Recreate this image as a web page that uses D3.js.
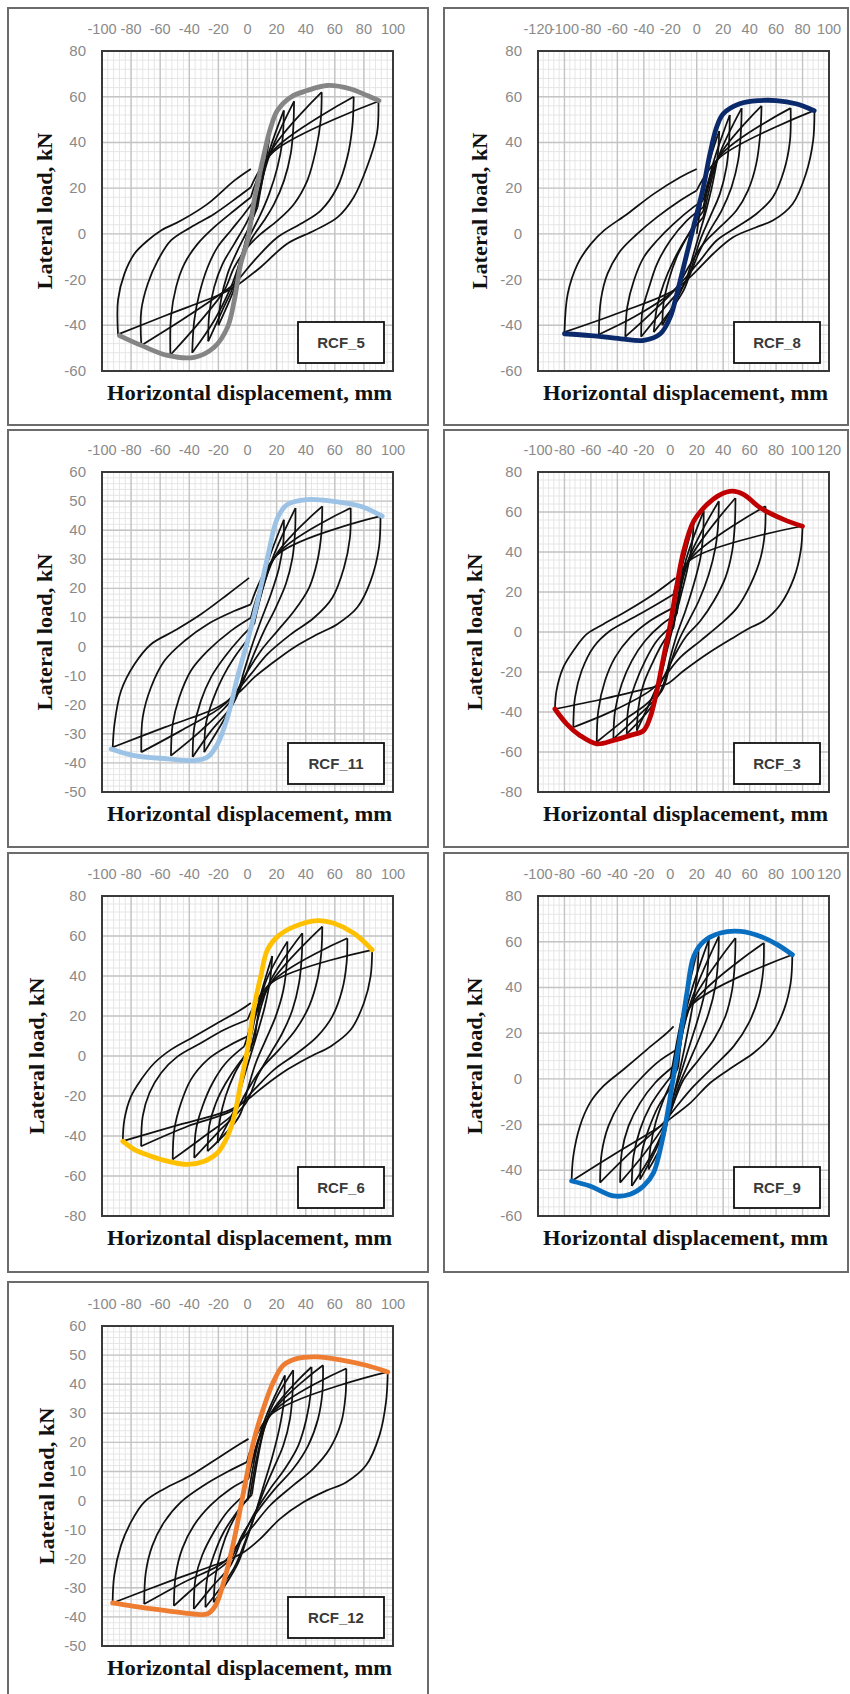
<!DOCTYPE html>
<html>
<head>
<meta charset="utf-8">
<script src="https://cdn.jsdelivr.net/npm/d3@7"></script>
<style>
  body { margin: 0; background: #fff; }
</style>
</head>
<body>
<div id="chart"></div>
<script>
// Specimens and axis ranges (mm, kN)
const specimens = ["RCF_5", "RCF_8", "RCF_11", "RCF_3", "RCF_6", "RCF_9", "RCF_12"];
const xDomains = [[-100, 100], [-120, 100], [-100, 100], [-100, 120], [-100, 100], [-100, 120], [-100, 100]];
const yDomains = [[-60, 80], [-60, 80], [-50, 60], [-80, 80], [-80, 80], [-60, 80], [-50, 60]];
const xTickStep = [20, 20, 20, 20, 20, 20, 20];
const yTickStep = [20, 20, 10, 20, 20, 20, 10];

// Backbone (envelope) curves, [displacement, load]
const rcf5Envelope = [[-88,-44.5],[-73,-48.8],[-55,-53.2],[-36.6,-54],[-22.9,-49.6],[-13.7,-40.8],[-9.1,-29.2],[-4.6,-13],[0,-3],[4.6,14.6],[11.4,35],[16,46.6],[20.6,54],[29.7,59.8],[41,62.7],[54.9,64.9],[70.9,63.4],[82.3,60.5],[90.3,58.3]];
const rcf8Envelope = [[-100,-43.7],[-80,-44.5],[-57.5,-45.9],[-40,-46.6],[-27.5,-43.7],[-20,-36.4],[-15,-26.2],[-10,-14.6],[-5,-2.9],[0,8.7],[5,20.4],[10,35],[15,46.6],[20,52.5],[32.5,56.9],[47.5,58.3],[60,58.3],[75,56.9],[88.8,53.9]];
const rcf11Envelope = [[-93.7,-35.2],[-77.7,-37.5],[-54.9,-38.6],[-36.6,-39.2],[-27.4,-38],[-20.6,-33.5],[-13.7,-24.3],[-6.9,-10.6],[0,1.9],[6.9,15.6],[13.7,30.5],[20.6,44.2],[27.4,48.8],[41.1,50.5],[59.4,49.9],[77.7,48.2],[92.6,44.8]];
const rcf3Envelope = [[-87.2,-38.5],[-78.4,-45.9],[-68.3,-51.7],[-55.6,-55.9],[-43,-54.2],[-30.3,-51.7],[-20.2,-49.3],[-15.2,-42.6],[-10.1,-29.3],[-5.1,-12.7],[0,3.9],[5.1,23.8],[10.1,40.4],[17.7,55.4],[27.8,63.7],[37.9,68.7],[46.8,70.4],[55.6,68.7],[68.3,62],[86,56.2],[99.9,52.9]];
const rcf6Envelope = [[-85.7,-42.6],[-77.7,-46.8],[-66.3,-50.1],[-54.9,-52.6],[-41.1,-54.2],[-29.7,-52.6],[-20.6,-48.4],[-13.7,-40.1],[-9.1,-30.1],[-4.6,-13.5],[0,3.2],[4.6,24.8],[9.1,39.8],[13.7,53.1],[20.6,59.7],[32,64.7],[48,67.7],[59.4,66.4],[73.1,61.4],[85.7,53.1]];
const rcf9Envelope = [[-74.6,-44.7],[-60.7,-46.9],[-43,-51.2],[-30.3,-50.5],[-20.2,-46.9],[-12.6,-41],[-7.6,-30.9],[-2.5,-16.3],[2.5,1.2],[7.6,18.6],[12.6,37.6],[17.7,53.6],[25.3,60.1],[37.9,63.8],[53.1,64.5],[68.3,62.3],[80.9,58.7],[92.3,54.3]];
const rcf12Envelope = [[-92.7,-35.2],[-77.9,-36.4],[-55.1,-37.9],[-36.9,-39],[-27.8,-39],[-22.1,-36.2],[-16.4,-28.1],[-9.6,-14.4],[-5,-2.9],[-0.5,8.6],[4.1,20.1],[10.9,31.6],[17.8,40.8],[24.6,46.5],[33.7,48.8],[47.4,49.4],[65.6,48.2],[81.5,46.5],[96.4,44.2]];

// Hysteresis cycles: pivot on loading, positive peak, unloading branch, negative peak, reloading branch
const rcf5Cycles = [
  { pivot: [8,24], pos: [15,42], down: [[12.6,32],[9.1,20.4],[4.6,8.7],[0,0],[-4.6,-11.7],[-8,-21.9]], neg: [-20,-40], up: [[-18.3,-29.2],[-13.7,-17.5],[-6.9,-7.3],[0,1.5],[6.9,11.7]] },
  { pivot: [14,34], pos: [25,54], down: [[24,40.8],[20.6,29.2],[14.9,17.5],[9.1,8.7],[2.3,0],[-4.6,-10.2],[-9.1,-21.9],[-17,-33]], neg: [-27,-47], up: [[-26.3,-35],[-22.9,-23.3],[-17.1,-13.1],[-9.1,-4.4],[-1.1,4.4],[5.7,13.1]] },
  { pivot: [16,36], pos: [32,58], down: [[31.5,46.6],[29.7,35],[25.1,23.3],[18.3,13.1],[11.4,5.8],[3.4,-1.5],[-4.6,-11.7],[-11.4,-23.3],[-23,-38]], neg: [-38,-52], up: [[-36.6,-37.9],[-33.1,-26.2],[-27.4,-14.6],[-20.6,-5.8],[-11.4,1.5],[-2.3,8.7],[4.6,14.6]] },
  { pivot: [17,37], pos: [51,62], down: [[50.3,49.6],[46.9,36.4],[41.1,23.3],[32,13.1],[20.6,5.8],[9.1,0],[0,-5.8],[-9.1,-14.6],[-16,-24.8],[-34,-39.4]], neg: [-53,-53], up: [[-52.6,-36.4],[-49.1,-23.3],[-43.4,-13.1],[-34.3,-4.4],[-22.9,2.9],[-9.1,10.2],[2.3,16]] },
  { pivot: [17,36], pos: [73,60], down: [[72,46.6],[68.6,33.5],[61.7,20.4],[50.3,10.2],[36.6,4.4],[20.6,-1.5],[4.6,-11.7],[-9.1,-21.9],[-18.3,-26.2],[-45.7,-37.9]], neg: [-73,-48.8], up: [[-73,-33.5],[-68.6,-21.9],[-61.7,-11.7],[-52.6,-2.9],[-38.9,2.9],[-22.9,8.7],[-6.9,16],[2.3,20.4]] },
  { pivot: [18,36], pos: [90,58], down: [[89,44],[82,29],[73,16],[62,7.3],[46,1.5],[27,-4.4],[9,-14.6],[-9,-23.3],[-20.6,-27],[-55,-35.4]], neg: [-89,-44], up: [[-89,-29],[-84.6,-17.5],[-77.7,-8.7],[-68.6,-2.9],[-59.4,1.5],[-45.7,5.8],[-27.4,13.1],[-9.1,23.3],[2.3,28.4]] }
];
const rcf8Cycles = [
  { pivot: [8,28], pos: [17,45], down: [[16,35],[12,22],[7,10],[2,0],[-3,-10],[-8,-20]], neg: [-26,-40], up: [[-25,-30],[-21,-20],[-15,-10],[-8,-2],[0,6],[5,10]] },
  { pivot: [12,30], pos: [25,52], down: [[24.5,40.8],[22.5,29.2],[17.5,17.5],[10,7.3],[2.5,-2.9],[-3.8,-14.6],[-10,-24.8]], neg: [-32.5,-43], up: [[-30,-32],[-25,-21.9],[-17.5,-11.7],[-7.5,-1.5],[5,7.3]] },
  { pivot: [16,33], pos: [34,55], down: [[33.3,43.7],[31.3,32],[26.3,20.4],[18.8,10.2],[10,1.5],[1.3,-8.7],[-7.5,-20.4],[-26,-33.5]], neg: [-42,-45], up: [[-41,-33.5],[-36,-23.3],[-30,-13.1],[-20,-2.9],[-7.5,5.8],[5,11.7]] },
  { pivot: [17,34], pos: [49,56], down: [[48,43.7],[45,30.6],[38.8,19],[30,10.2],[17.5,2.9],[5,-4.4],[-6.3,-14.6],[-15,-23.3],[-35,-35]], neg: [-54,-45], up: [[-52.5,-32],[-47.5,-20.4],[-40,-10.2],[-30,-2.9],[-17.5,4.4],[-2.5,11.7],[5,14.6]] },
  { pivot: [17.5,34], pos: [71,55], down: [[70.5,40.8],[66,27.7],[57.5,16],[45,8.7],[30,2.9],[15,-2.9],[2.5,-11.7],[-12.5,-21.9],[-20,-26.2],[-47.5,-36.4]], neg: [-74,-44], up: [[-72.5,-29],[-67.5,-17.5],[-57.5,-7.3],[-45,0],[-30,7.3],[-12.5,14.6],[0,19]] },
  { pivot: [17.5,33.5], pos: [89,54], down: [[88,40.8],[82.5,26.2],[72.5,13.1],[57.5,5.8],[45,2.9],[27.5,-1.5],[12.5,-8.7],[-2.5,-17.5],[-17.5,-24.8],[-57.5,-34.3]], neg: [-100,-43], up: [[-97.5,-26.2],[-90,-13.1],[-80,-4.4],[-70,1.5],[-52.5,8.7],[-32.5,17.5],[-12.5,24.8],[0,28.4]] }
];
const rcf11Cycles = [
  { pivot: [12,26], pos: [25,43.6], down: [[24.7,36.2],[21.7,27.1],[16,17.9],[9.1,8.8],[3.4,0.8],[-2.3,-8.3],[-8,-17.5]], neg: [-29.7,-36.3], up: [[-28.6,-26.6],[-24,-18.6],[-17.1,-10.6],[-9.1,-3.8],[1.1,3.1]] },
  { pivot: [17,30], pos: [33,47.6], down: [[32.7,39.6],[30.9,30.5],[26.3,21.4],[18.3,12.2],[11.4,5.4],[3.4,-3.8],[-4.6,-14],[-11.4,-20.9],[-25,-29]], neg: [-37.7,-38], up: [[-36.6,-27.8],[-32,-18.6],[-25.1,-10.6],[-16,-3.8],[-4.6,3.1],[4.6,7.7]] },
  { pivot: [19,31], pos: [51.4,48.2], down: [[50.7,38.5],[48,29.4],[42.3,20.2],[32,12.2],[20.6,5.4],[9.1,-1.5],[-1.1,-9.5],[-11.4,-18.6],[-32,-28.9]], neg: [-52.6,-37.5], up: [[-51.4,-26.6],[-46.9,-17.5],[-38.9,-8.3],[-27.4,-1.5],[-11.4,5.4],[2.3,9.9]] },
  { pivot: [20,31.5], pos: [70.9,47.6], down: [[70.4,37.4],[66.3,27.1],[58.3,16.8],[45.7,9.9],[29.7,4.2],[13.7,-2.6],[2.3,-9.5],[-9.1,-16.3],[-18.3,-20.9],[-45.7,-28.9]], neg: [-73,-36.3], up: [[-72,-24.3],[-66.3,-14],[-57.1,-4.9],[-43.4,1.9],[-27.4,7.7],[-9.1,12.2],[2.3,14.5]] },
  { pivot: [20.6,31.6], pos: [91.4,44.8], down: [[90.3,33.9],[84.6,22.5],[75.4,13.4],[61.7,7.7],[48,4.2],[32,-0.3],[16,-6.1],[4.6,-10.6],[-4.6,-15.2],[-20.6,-20.9],[-57.1,-27.8]], neg: [-92.6,-34.6], up: [[-91.4,-26.6],[-86.9,-15.2],[-77.7,-6.1],[-66.3,0.8],[-50.3,5.4],[-32,11.1],[-13.7,17.9],[1.1,23.6]] }
];
const rcf3Cycles = [
  { pivot: [8,30], pos: [17.7,55], down: [[16.4,43.8],[12.6,30.5],[7.6,17.2],[2.5,3.9],[-2.5,-9.4],[-7.6,-22.7]], neg: [-25.3,-49.3], up: [[-24,-37.6],[-20.2,-26],[-13.9,-16.1],[-6.3,-6.1],[2.5,2.2]] },
  { pivot: [11,34], pos: [25.3,60.4], down: [[24.8,48.7],[22.8,37.1],[17.7,23.8],[11.4,10.5],[5.1,-1.1],[0,-12.7],[-5.1,-26],[-15,-38]], neg: [-32.9,-50.9], up: [[-31.6,-37.6],[-26.5,-26],[-19,-14.4],[-10.1,-4.4],[2.5,3.9]] },
  { pivot: [13,35], pos: [36.7,65.4], down: [[36.2,53.7],[34.1,42.1],[29.1,28.8],[21.5,15.5],[13.9,5.6],[6.3,-4.4],[0,-16.1],[-6.3,-29.3],[-25.3,-42.6]], neg: [-43,-53.4], up: [[-41.7,-39.3],[-36.7,-26],[-29.1,-14.4],[-19,-4.4],[-6.3,3.9],[5,8.9]] },
  { pivot: [14,35.5], pos: [49.3,67], down: [[48.8,53.7],[46.8,40.4],[41.7,27.2],[32.9,15.5],[22.8,5.6],[11.4,-2.7],[2.5,-12.7],[-7.6,-26],[-15.2,-34.3],[-35.4,-44.3]], neg: [-55.6,-55], up: [[-54.4,-39.3],[-49.3,-24.3],[-41.7,-12.7],[-30.3,-2.7],[-15.2,5.6],[2.5,12.2]] },
  { pivot: [14,35.5], pos: [72,62.9], down: [[71.6,50.4],[68.3,37.1],[60.7,23.8],[50.6,12.2],[37.9,3.9],[22.8,-4.4],[7.6,-12.7],[-5.1,-22.7],[-15.2,-29.3],[-43,-39.3]], neg: [-73.3,-47.6], up: [[-72,-32.6],[-67,-19.4],[-58.2,-7.7],[-45.5,0.6],[-27.8,7.2],[-10.1,13.9],[2.5,18.9]] },
  { pivot: [14,35.4], pos: [100,53], down: [[98.6,40.4],[93.6,27.2],[83.4,13.9],[70.8,5.6],[60.7,2.2],[48,-2.7],[27.8,-11],[10.1,-19.4],[-2.5,-26],[-12.6,-27.6],[-50.6,-33.5]], neg: [-87.2,-38.5], up: [[-86,-29.3],[-80.9,-17.7],[-73.3,-9.4],[-63.2,-1.1],[-50.6,3.9],[-32.9,10.5],[-12.6,18.9],[4,27]] }
];
const rcf6Cycles = [
  { pivot: [7,25], pos: [17,50], down: [[15.5,38],[12,25],[7,12],[2,0],[-3,-12],[-8,-25]], neg: [-20.6,-43.4], up: [[-19,-32],[-15,-20],[-9,-9],[-2,0],[5,8]] },
  { pivot: [12,36], pos: [27.4,57.2], down: [[27,46.4],[24.7,33.1],[19.4,19.8],[12.6,8.2],[5.7,-3.5],[0,-16.8],[-5.7,-30.1]], neg: [-27.4,-47.6], up: [[-26.3,-35.1],[-21.7,-23.5],[-14.9,-13.5],[-5.7,-3.5],[2.3,3.2]] },
  { pivot: [15,36.5], pos: [37.7,61.4], down: [[37.3,49.8],[35.4,36.4],[30.9,23.1],[24,11.5],[16,1.5],[6.9,-10.1],[-1.1,-23.5],[-20.6,-38.4]], neg: [-36.6,-50.9], up: [[-35.4,-36.8],[-30.9,-25.1],[-24,-13.5],[-14.9,-3.5],[-2.3,4.8]] },
  { pivot: [16,36.4], pos: [51.4,64.7], down: [[50.7,51.4],[48,38.1],[42.3,24.8],[33.1,13.1],[21.7,3.2],[9.1,-6.8],[-1.1,-18.5],[-9.1,-28.5],[-29.7,-40.1]], neg: [-51.4,-51.7], up: [[-50.3,-36.8],[-45.7,-23.5],[-38.9,-11.8],[-27.4,-1.8],[-13.7,4.8],[0,9.8]] },
  { pivot: [16,36.4], pos: [68.6,58.9], down: [[68.1,46.4],[65.1,33.1],[58.3,19.8],[48,9.8],[34.3,1.5],[18.3,-6.8],[4.6,-16.8],[-9.1,-26.8],[-41.1,-35.1]], neg: [-73.1,-45.1], up: [[-72,-30.1],[-67.4,-18.5],[-59.4,-8.5],[-48,-0.2],[-32,6.5],[-16,13.1],[0,18.1]] },
  { pivot: [16,36.4], pos: [85.7,53.1], down: [[84.6,39.8],[80,26.5],[70.9,13.1],[57.1,4.8],[43.4,-0.2],[27.4,-6.8],[11.4,-15.1],[0,-21.8],[-11.4,-26.8],[-50.3,-35.1]], neg: [-85.7,-42.6], up: [[-84.6,-31.8],[-80,-20.1],[-73.1,-11.8],[-64,-3.5],[-52.6,3.2],[-36.6,9.8],[-20.6,16.5],[-4.6,23.1],[2.3,26.5]] }
];
const rcf9Cycles = [
  { pivot: [8,25], pos: [21.5,58.7], down: [[20.5,47],[17.5,34],[13,20],[8,6],[3,-6],[-2,-18],[-6,-28]], neg: [-16.4,-39.6], up: [[-15,-30],[-11,-19],[-5,-9],[1,-1],[6,5]] },
  { pivot: [12,30], pos: [29.1,60.8], down: [[28.6,50.7],[26.5,39],[21.5,27.4],[15.2,15.7],[8.9,4.1],[2.5,-7.6],[-2.5,-19.2],[-10,-30]], neg: [-22.8,-44], up: [[-21.5,-32.3],[-16.4,-22.1],[-8.9,-11.9],[1.3,-3.2]] },
  { pivot: [14,31], pos: [36.7,62.3], down: [[36.2,52.1],[34.1,40.5],[29.1,28.8],[21.5,17.2],[13.9,7],[6.3,-3.2],[0,-14.8],[-13,-32]], neg: [-29.1,-46.9], up: [[-27.8,-33.8],[-22.8,-22.1],[-15.2,-11.9],[-5.1,-3.2],[5,4.1]] },
  { pivot: [15,31.7], pos: [49.3,61.6], down: [[48.8,50.7],[46.8,39],[41.7,27.4],[32.9,17.2],[21.5,8.4],[10.1,-0.3],[2.5,-10.5],[-5.1,-20.7],[-20,-33]], neg: [-37.9,-45.4], up: [[-36.7,-32.3],[-31.6,-20.7],[-22.8,-10.5],[-11.4,-1.7],[2.5,5.5]] },
  { pivot: [15.2,31.7], pos: [70.8,59.4], down: [[70.3,47.7],[67,36.1],[59.4,24.5],[48,14.3],[32.9,5.5],[17.7,-3.2],[5,-11.9],[-5.1,-19.2],[-30.3,-32.3]], neg: [-53.1,-45.4], up: [[-51.8,-32.3],[-46.8,-20.7],[-37.9,-10.5],[-25.3,-1.7],[-10.1,7],[5,12.8]] },
  { pivot: [15.2,31.7], pos: [92.3,54.3], down: [[91,41.9],[86,30.3],[75.9,18.6],[63.2,11.4],[48,5.5],[30.3,-1.7],[15.2,-10.5],[2.5,-16.3],[-7.6,-20.7],[-40.5,-32.3]], neg: [-74.6,-44.7], up: [[-73.3,-33.8],[-68.3,-20.7],[-60.7,-10.5],[-50.6,-3.2],[-35.4,4.1],[-17.7,12.8],[-2.5,20.1],[2.5,23]] }
];
const rcf12Cycles = [
  { pivot: [10,25], pos: [25.7,43], down: [[25,34],[22,25],[17,15],[11,5],[5,-5],[-1,-14],[-7,-22]], neg: [-23.2,-35], up: [[-22,-26],[-18,-17],[-12,-9],[-4,-2],[3,2]] },
  { pivot: [14,29], pos: [31.4,44.8], down: [[31,37.3],[29.2,28.1],[24.6,18.9],[17.8,10.9],[10.9,2.9],[4.1,-6.3],[-2.7,-15.5],[-9.6,-23.5]], neg: [-28.9,-36.7], up: [[-27.8,-27],[-23.2,-18.9],[-16.4,-10.9],[-7.3,-4],[1.8,1.7]] },
  { pivot: [15,29], pos: [44,45.9], down: [[43.5,37.3],[40.5,28.1],[34.9,18.9],[25.7,10.9],[15.5,4],[5.2,-4],[-3.9,-13.2],[-11.8,-22.4],[-25,-30]], neg: [-36.9,-37.3], up: [[-35.8,-27],[-31.2,-18.9],[-23.2,-10.9],[-14.1,-4],[-2.7,1.7]] },
  { pivot: [15.5,29.3], pos: [51.9,46.5], down: [[51.5,37.3],[48.5,28.1],[41.7,18.9],[31.4,10.9],[18.9,4],[6.4,-4],[-3.9,-12.1],[-11.8,-20.1],[-32.3,-28.1]], neg: [-50.6,-36.2], up: [[-49.4,-25.8],[-44.9,-16.6],[-36.9,-8.6],[-25.5,-1.7],[-11.8,4],[0.7,7.5]] },
  { pivot: [15.5,29.3], pos: [67.9,45.4], down: [[67.4,36.2],[64.5,27],[56.5,17.8],[45.1,10.9],[31.4,5.2],[15.5,-1.7],[4.1,-8.6],[-7.3,-15.5],[-16.4,-21.2],[-43.7,-28.1]], neg: [-71,-35.6], up: [[-69.9,-24.7],[-65.4,-15.5],[-57.4,-7.5],[-46,-0.6],[-30.1,5.2],[-14.1,9.8],[-0.5,13.2]] },
  { pivot: [15.5,29.3], pos: [96.4,44.2], down: [[95.2,33.9],[90.7,22.4],[81.5,12.1],[67.9,6.3],[54.2,3.4],[38.3,-0.6],[22.3,-6.3],[8.7,-13.2],[-2.7,-17.8],[-11.8,-20.1],[-52.8,-27.6]], neg: [-92.7,-35.2], up: [[-91.6,-25.8],[-87,-15.5],[-80.2,-7.5],[-71.1,-0.6],[-57.4,4],[-39.2,8.6],[-21,14.4],[-5,19.5],[0.7,21.2]] }
];

const envelopes = [rcf5Envelope, rcf8Envelope, rcf11Envelope, rcf3Envelope, rcf6Envelope, rcf9Envelope, rcf12Envelope];
const cycleSets = [rcf5Cycles, rcf8Cycles, rcf11Cycles, rcf3Cycles, rcf6Cycles, rcf9Cycles, rcf12Cycles];

// Styles and layout
const envelopeColors = ["#858585", "#0b2a6b", "#9cc3e6", "#c00000", "#ffc000", "#0a6ec0", "#ee7d31"];
const colLeft = [102, 538];
const plotW = 291, plotH = 320;
const rowTop = [51, 472, 896, 1326];
const frameX = [[8, 428], [444, 848]];
const frameY = [[8, 425], [430, 847], [853, 1272], [1282, 1710]];
const yTitleGap = [57, 58, 57, 63, 65, 63, 55];

const svg = d3.select("#chart").append("svg")
    .attr("width", 850)
    .attr("height", 1694)
    .style("display", "block");

const serif = "'Liberation Serif', 'Times New Roman', serif";
const sans = "'Liberation Sans', Arial, sans-serif";

specimens.forEach((name, i) => {
    const col = i % 2, row = Math.floor(i / 2);
    const left = colLeft[col], top = rowTop[row];

    // Panel frame
    svg.append("rect")
        .attr("x", frameX[col][0]).attr("y", frameY[row][0])
        .attr("width", frameX[col][1] - frameX[col][0])
        .attr("height", frameY[row][1] - frameY[row][0])
        .attr("fill", "none").attr("stroke", "#6b6b6b").attr("stroke-width", 2);

    const g = svg.append("g").attr("transform", `translate(${left},${top})`);

    const x = d3.scaleLinear().domain(xDomains[i]).range([0, plotW]);
    const y = d3.scaleLinear().domain(yDomains[i]).range([plotH, 0]);

    const xs = xTickStep[i], ys = yTickStep[i];
    const xTicks = d3.range(xDomains[i][0], xDomains[i][1] + 0.01, xs);
    const yTicks = d3.range(yDomains[i][0], yDomains[i][1] + 0.01, ys);
    const xMinor = d3.range(xDomains[i][0], xDomains[i][1] + 0.01, xs / 5);
    const yMinor = d3.range(yDomains[i][0], yDomains[i][1] + 0.01, ys / 5);

    // Minor grid
    g.append("g").selectAll("line").data(xMinor).enter().append("line")
        .attr("x1", d => x(d)).attr("x2", d => x(d))
        .attr("y1", 0).attr("y2", plotH)
        .attr("stroke", "#e3e3e3").attr("stroke-width", 0.9);
    g.append("g").selectAll("line").data(yMinor).enter().append("line")
        .attr("y1", d => y(d)).attr("y2", d => y(d))
        .attr("x1", 0).attr("x2", plotW)
        .attr("stroke", "#e3e3e3").attr("stroke-width", 0.9);

    // Major grid
    g.append("g").selectAll("line").data(xTicks).enter().append("line")
        .attr("x1", d => x(d)).attr("x2", d => x(d))
        .attr("y1", 0).attr("y2", plotH)
        .attr("stroke", "#c4c4c4").attr("stroke-width", 1.4);
    g.append("g").selectAll("line").data(yTicks).enter().append("line")
        .attr("y1", d => y(d)).attr("y2", d => y(d))
        .attr("x1", 0).attr("x2", plotW)
        .attr("stroke", "#c4c4c4").attr("stroke-width", 1.4);

    // Tick labels (x on top, y on left)
    g.append("g").selectAll("text").data(xTicks).enter().append("text")
        .attr("x", d => x(d)).attr("y", -17)
        .attr("text-anchor", "middle")
        .style("font-family", sans).style("font-size", "14.5px")
        .style("fill", "#8a8a8a")
        .text(d => String(d));
    g.append("g").selectAll("text").data(yTicks).enter().append("text")
        .attr("x", -16).attr("y", d => y(d) + 5)
        .attr("text-anchor", "end")
        .style("font-family", sans).style("font-size", "15px")
        .style("fill", "#8a8a8a")
        .text(d => String(d));

    // Clip
    const clipId = "clip" + i;
    g.append("clipPath").attr("id", clipId)
        .append("rect").attr("width", plotW).attr("height", plotH);

    const line = d3.line()
        .x(d => x(d[0])).y(d => y(d[1]))
        .curve(d3.curveCatmullRom.alpha(0.5));

    // Hysteresis branches
    const branches = [];
    let prev = [0, 0];
    cycleSets[i].forEach(c => {
        branches.push([prev, c.pivot, c.pos]);
        branches.push([c.pos, ...c.down, c.neg]);
        branches.push([c.neg, ...c.up]);
        prev = c.up[c.up.length - 1];
    });

    const plot = g.append("g").attr("clip-path", `url(#${clipId})`);
    plot.selectAll("path.loop").data(branches).enter().append("path")
        .attr("class", "loop")
        .attr("d", line)
        .attr("fill", "none")
        .attr("stroke", "#111")
        .attr("stroke-width", 1.75)
        .attr("stroke-linejoin", "round");

    // Envelope
    plot.append("path")
        .datum(envelopes[i])
        .attr("d", line)
        .attr("fill", "none")
        .attr("stroke", envelopeColors[i])
        .attr("stroke-width", 4.8)
        .attr("stroke-linejoin", "round")
        .attr("stroke-linecap", "round");

    // Plot border
    g.append("rect")
        .attr("width", plotW).attr("height", plotH)
        .attr("fill", "none").attr("stroke", "#3a3a3a").attr("stroke-width", 2);

    // Specimen label box
    const boxW = name.length > 5 ? 96 : 86, boxH = 41;
    const bx = plotW - 9 - boxW, by = plotH - 8 - boxH;
    g.append("rect")
        .attr("x", bx).attr("y", by).attr("width", boxW).attr("height", boxH)
        .attr("fill", "#fff").attr("stroke", "#111").attr("stroke-width", 1.8);
    g.append("text")
        .attr("x", bx + boxW / 2).attr("y", by + boxH / 2 + 5.5)
        .attr("text-anchor", "middle")
        .style("font-family", sans).style("font-size", "15px").style("font-weight", "bold")
        .style("fill", "#3a3a3a")
        .text(name);

    // Axis titles
    g.append("text")
        .attr("x", plotW / 2 + 2).attr("y", plotH + 29)
        .attr("text-anchor", "middle")
        .attr("textLength", 285).attr("lengthAdjust", "spacingAndGlyphs")
        .style("font-family", serif).style("font-size", "20px").style("font-weight", "bold")
        .style("fill", "#111")
        .text("Horizontal displacement, mm");
    g.append("text")
        .attr("transform", `translate(${-yTitleGap[i] + 7},${plotH / 2}) rotate(-90)`)
        .attr("text-anchor", "middle")
        .attr("textLength", 157).attr("lengthAdjust", "spacingAndGlyphs")
        .style("font-family", serif).style("font-size", "20px").style("font-weight", "bold")
        .style("fill", "#111")
        .text("Lateral load, kN");
});
</script>
</body>
</html>
